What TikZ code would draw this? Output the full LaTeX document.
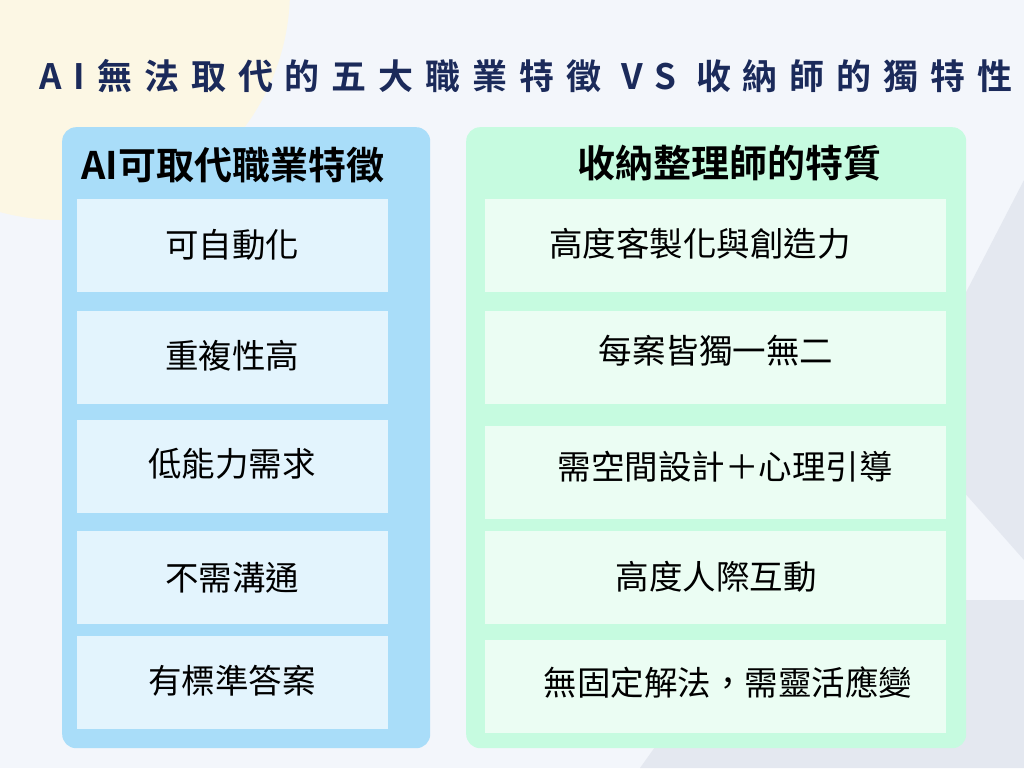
\documentclass[tikz,border=0pt]{standalone}
\usepackage{fontspec}
\newfontfamily\cjk{Noto Sans CJK TC}
\newfontfamily\cjkb{Noto Sans CJK TC Bold}
\definecolor{bg}{HTML}{F3F6FB}
\definecolor{cream}{HTML}{FCF7E4}
\definecolor{navy}{HTML}{1B2A5A}
\definecolor{lpanel}{HTML}{A9DDF9}
\definecolor{lbox}{HTML}{E3F4FD}
\definecolor{rpanel}{HTML}{C6FBE0}
\definecolor{rbox}{HTML}{EBFDF3}
\definecolor{gshape}{HTML}{E4E8F0}
\tikzset{
  panel/.style={rounded corners=14pt, draw=none},
  lcell/.style={fill=lbox, minimum width=311pt, minimum height=93pt, inner sep=0pt},
  rcell/.style={fill=rbox, minimum width=461pt, minimum height=93pt, inner sep=0pt},
  celltext/.style={font=\cjk\fontsize{33.5}{36}\selectfont, inner sep=0pt},
  head/.style={font=\cjkb\fontsize{38}{41}\selectfont, inner sep=0pt}
}
\begin{document}
\begin{tikzpicture}[x=1pt,y=-1pt]
\useasboundingbox (0,0) rectangle (1024,768);
\fill[bg] (0,0) rectangle (1024,768);
\fill[cream] (60,-10) circle (230);
\fill[gshape] (1024,180) -- (900,420) -- (1024,560) -- cycle;
\fill[gshape] (640,768) -- (760,600) -- (1024,600) -- (1024,768) -- cycle;
\node[font=\cjkb\addfontfeatures{LetterSpace=34}\fontsize{35}{38}\selectfont, text=navy, inner sep=0pt] (title) at (526,76) {AI無法取代的五大職業特徵 VS 收納師的獨特性};
\node[panel, fill=lpanel, minimum width=368pt, minimum height=621pt, anchor=north west] (lp) at (62,127) {};
\node[panel, fill=rpanel, minimum width=500pt, minimum height=621pt, anchor=north west] (rp) at (466,127) {};
\node[head] (lh) at (233,165) {AI可取代職業特徵};
\node[head] (rh) at (729,163) {收納整理師的特質};
\node[lcell] (l1) at (232.5,245.5) {};
\node[lcell] (l2) at (232.5,357.5) {};
\node[lcell] (l3) at (232.5,466.5) {};
\node[lcell] (l4) at (232.5,577.5) {};
\node[lcell] (l5) at (232.5,682.5) {};
\node[rcell] (r1) at (715.5,245.5) {};
\node[rcell] (r2) at (715.5,357.5) {};
\node[rcell] (r3) at (715.5,472.5) {};
\node[rcell] (r4) at (715.5,577.5) {};
\node[rcell] (r5) at (715.5,686.5) {};
\node[celltext] (t1) at (232,245) {可自動化};
\node[celltext] (t2) at (232,356) {重複性高};
\node[celltext] (t3) at (232,464) {低能力需求};
\node[celltext] (t4) at (232,578) {不需溝通};
\node[celltext] (t5) at (232,681) {有標準答案};
\node[celltext] (u1) at (700,244) {高度客製化與創造力};
\node[celltext] (u2) at (716,351) {每案皆獨一無二};
\node[celltext] (u3) at (725,467) {需空間設計＋心理引導};
\node[celltext] (u4) at (716,577) {高度人際互動};
\node[celltext] (u5) at (728,683) {無固定解法，需靈活應變};
\end{tikzpicture}
\end{document}
